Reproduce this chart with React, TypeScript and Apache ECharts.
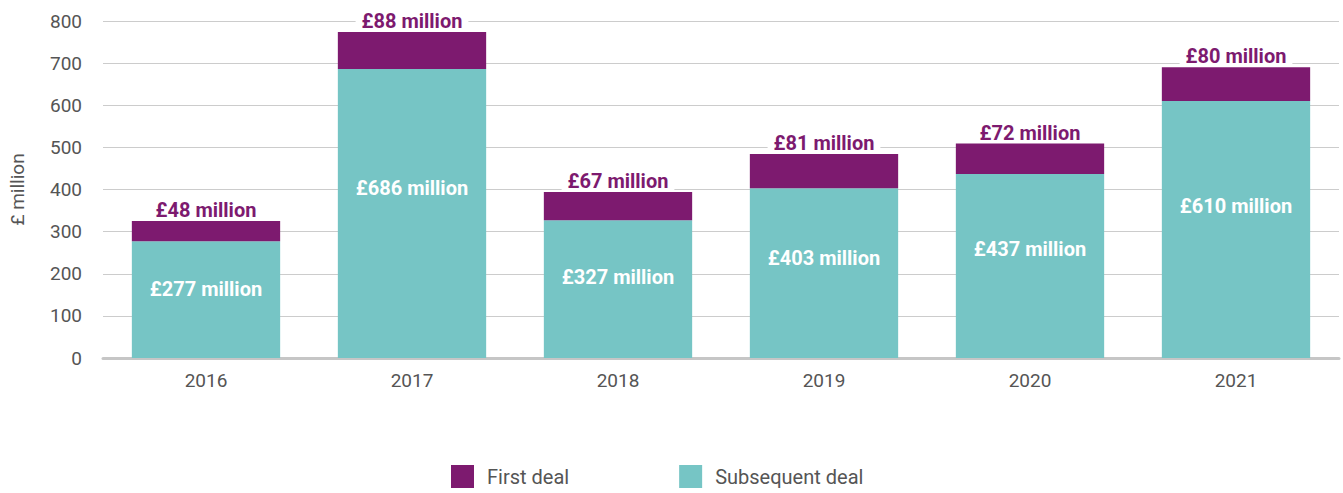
import React, { useEffect, useRef } from "react";
import * as echarts from "echarts";

const years = ["2016", "2017", "2018", "2019", "2020", "2021"];
const subsequentDeal = [277, 686, 327, 403, 437, 610];
const firstDeal = [48, 88, 67, 81, 72, 80];
const yTicks = { min: 0, max: 800, interval: 100 };

const PURPLE = "#7d1a6f";
const TEAL = "#76c5c5";
const GREY_TEXT = "#555555";
const FONT = "Roboto, 'Open Sans', sans-serif";

export default function App() {
  const ref = useRef<HTMLDivElement>(null);
  useEffect(() => {
    if (!ref.current) return;
    const chart = echarts.init(ref.current, null, { renderer: "svg" });
    chart.setOption({
      animation: false,
      textStyle: { fontFamily: FONT },
      grid: { left: 102, right: 4, top: 21, bottom: 135 },
      legend: {
        left: 451,
        top: 465,
        padding: 0,
        itemWidth: 23,
        itemHeight: 23,
        itemGap: 110,
        icon: "rect",
        textStyle: { fontSize: 20, lineHeight: 23, color: GREY_TEXT, fontFamily: FONT, padding: [0, 0, 0, 8] },
        data: ["First deal", "Subsequent deal"],
      },
      xAxis: {
        type: "category",
        data: years,
        axisLine: { lineStyle: { color: "#c6c6c6", width: 3 } },
        axisTick: { show: false },
        axisLabel: { color: GREY_TEXT, fontSize: 19, margin: 13, fontFamily: FONT },
      },
      yAxis: {
        type: "value",
        min: yTicks.min,
        max: yTicks.max,
        interval: yTicks.interval,
        name: "£ million",
        nameLocation: "middle",
        nameGap: 76,
        nameRotate: 90,
        nameTextStyle: { color: GREY_TEXT, fontSize: 19, fontFamily: FONT },
        axisLine: { show: false },
        axisTick: { show: false },
        axisLabel: { color: GREY_TEXT, fontSize: 19, margin: 21, fontFamily: FONT },
        splitLine: { lineStyle: { color: "#cccccc", width: 1 } },
      },
      series: [
        {
          name: "Subsequent deal",
          type: "bar",
          stack: "total",
          barWidth: "72%",
          itemStyle: { color: TEAL },
          label: {
            show: true,
            position: ["50%", "41%"],
            align: "center",
            verticalAlign: "middle",
            color: "#ffffff",
            fontWeight: "bold",
            fontSize: 20,
            fontFamily: FONT,
            formatter: (p: any) => `£${p.value} million`,
          },
          data: subsequentDeal,
        },
        {
          name: "First deal",
          type: "bar",
          stack: "total",
          barWidth: "72%",
          itemStyle: { color: PURPLE },
          label: {
            show: true,
            position: "top",
            distance: 1,
            color: PURPLE,
            fontWeight: "bold",
            fontSize: 20,
            fontFamily: FONT,
            backgroundColor: "#ffffff",
            padding: [0, 6, 0, 6],
            formatter: (p: any) => `£${p.value} million`,
          },
          data: firstDeal,
        },
      ],
    });
    return () => chart.dispose();
  }, []);
  return (
    <div
      ref={ref}
      style={{ position: "absolute", left: 0, top: 0, width: 1343, height: 493, background: "#fff" }}
    />
  );
}
